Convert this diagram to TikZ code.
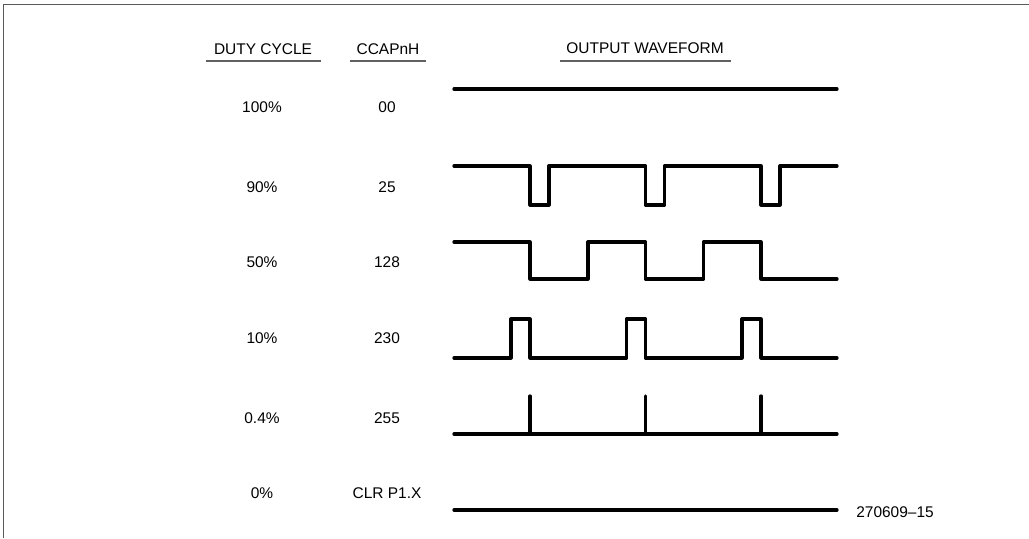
\documentclass[tikz,border=0pt]{standalone}
\usepackage{fontspec}
\setmainfont{Liberation Sans}
\usetikzlibrary{arrows.meta}

\begin{document}
\begin{tikzpicture}[x=0.025cm,y=-0.025cm,>=Stealth,
		wave/.style={line width=2.3pt,line join=round,line cap=round},
		lbl/.style={font=\fontsize{11}{13}\selectfont,inner sep=0pt},
		rule/.style={line width=0.9pt,gray!75!black}]
		
		\useasboundingbox (0,0) rectangle (1029,538);
		
		% Frame (top and left only)
		\draw[line width=1.4pt,gray!70!black] (3.5,538) -- (3.5,4.5) -- (1029,4.5);
		
		% Column headers
		\node[lbl] (hduty) at (263,49) {DUTY CYCLE};
		\node[lbl] (hcap) at (388,49) {CCAPnH};
		\node[lbl] (hwave) at (645,48) {OUTPUT WAVEFORM};
		\draw[rule] (206,61) -- (321,61);
		\draw[rule] (350,61) -- (426,61);
		\draw[rule] (560,61) -- (731,61);
		
		% Rows
		\foreach \i/\y/\d/\c in {1/107/100\%/00,2/187/90\%/25,3/262/50\%/128,
			4/338/10\%/230,5/418/0.4\%/255,6/493/0\%/CLR P1.X}{
			\node[lbl] (duty\i) at (262,\y) {\d};
			\node[lbl] (cap\i) at (387,\y) {\c};
		}
		
		% Waveforms
		\draw[wave] (454,89) -- (837,89);
		\draw[wave] (454,166) \foreach \t in {530,645.5,761}
			{-- (\t,166) -- (\t,205) -- (\t+19,205) -- (\t+19,166)} -- (837,166);
		\draw[wave] (454,242) \foreach \t in {530,645.5}
			{-- (\t,242) -- (\t,279) -- (\t+58,279) -- (\t+58,242)}
			-- (761,242) -- (761,279) -- (837,279);
		\draw[wave] (454,358) \foreach \t in {530,645.5,761}
			{-- (\t-19,358) -- (\t-19,319) -- (\t,319) -- (\t,358)} -- (837,358);
		\draw[wave] (454,434) -- (837,434);
		\foreach \t in {530,645.5,761}
			\draw[wave] (\t,396) -- (\t,434);
		\draw[wave] (454,510) -- (837,510);
		
		\node[lbl] (fig) at (895,512) {270609--15};
		
	\end{tikzpicture}
\end{document}
